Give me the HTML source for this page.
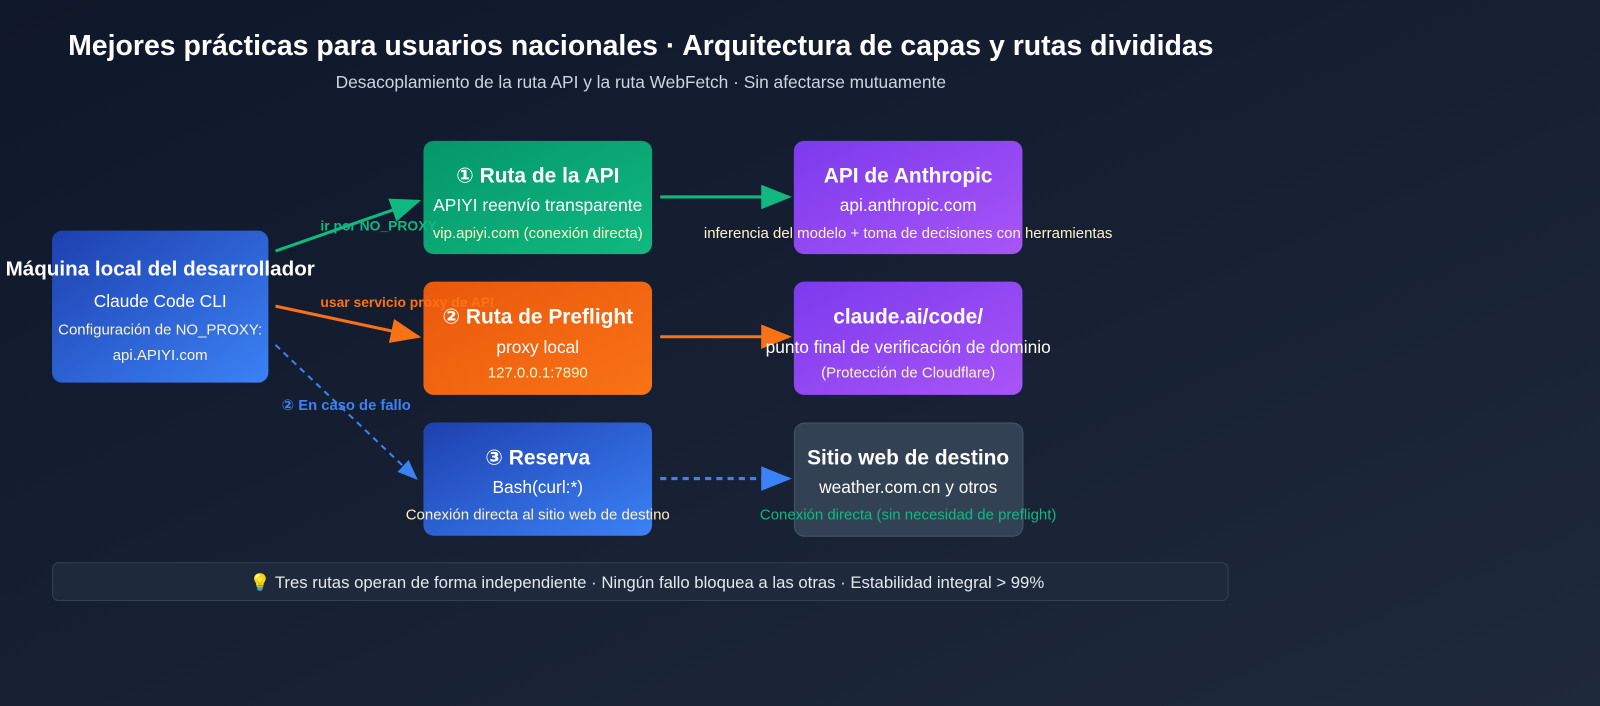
<!DOCTYPE html>
<html><head><meta charset="utf-8"><style>
html,body{margin:0;padding:0;background:#0f172a;}
svg{display:block;font-family:"Liberation Sans","DejaVu Sans",sans-serif;}
</style></head><body>
<svg width="1600" height="706" viewBox="0 0 1600 706" xmlns="http://www.w3.org/2000/svg">
<defs>
<linearGradient id="bg" x1="0" y1="0" x2="1" y2="1"><stop offset="0" stop-color="#0f172a"/><stop offset="1" stop-color="#1e293b"/></linearGradient>
<linearGradient id="gb" x1="0" y1="0" x2="1" y2="1"><stop offset="0" stop-color="#1e40af"/><stop offset="1" stop-color="#3b82f6"/></linearGradient>
<linearGradient id="gg" x1="0" y1="0" x2="1" y2="1"><stop offset="0" stop-color="#059669"/><stop offset="1" stop-color="#10b981"/></linearGradient>
<linearGradient id="go" x1="0" y1="0" x2="1" y2="1"><stop offset="0" stop-color="#ea580c"/><stop offset="1" stop-color="#f97316"/></linearGradient>
<linearGradient id="gp" x1="0" y1="0" x2="1" y2="1"><stop offset="0" stop-color="#7c3aed"/><stop offset="1" stop-color="#a855f7"/></linearGradient>
<marker id="ag" markerWidth="10" markerHeight="8" refX="9" refY="4" orient="auto" markerUnits="strokeWidth"><path d="M0,0 L10,4 L0,8z" fill="#10b981"/></marker>
<marker id="ao" markerWidth="10" markerHeight="8" refX="9" refY="4" orient="auto" markerUnits="strokeWidth"><path d="M0,0 L10,4 L0,8z" fill="#f97316"/></marker>
<marker id="ab" markerWidth="10" markerHeight="8" refX="9" refY="4" orient="auto" markerUnits="strokeWidth"><path d="M0,0 L10,4 L0,8z" fill="#3b82f6"/></marker>
</defs>
<rect width="1600" height="706" fill="url(#bg)"/>
<g transform="scale(1.0204)">
<text x="628" y="54" text-anchor="middle" font-size="27.9" font-weight="bold" fill="#fff">Mejores prácticas para usuarios nacionales · Arquitectura de capas y rutas divididas</text>
<text x="628" y="86" text-anchor="middle" font-size="17" fill="#cbd5e1">Desacoplamiento de la ruta API y la ruta WebFetch · Sin afectarse mutuamente</text>

<rect x="51" y="226" width="212" height="149" rx="10" fill="url(#gb)"/>
<rect x="415" y="138" width="224" height="111" rx="10" fill="url(#gg)"/>
<rect x="415" y="276" width="224" height="111" rx="10" fill="url(#go)"/>
<rect x="415" y="414" width="224" height="111" rx="10" fill="url(#gb)"/>
<rect x="778" y="138" width="224" height="111" rx="10" fill="url(#gp)"/>
<rect x="778" y="276" width="224" height="111" rx="10" fill="url(#gp)"/>
<rect x="778.5" y="414.5" width="224" height="111" rx="10" fill="#334155" stroke="#475569"/>

<line x1="270" y1="246" x2="410" y2="197" stroke="#10b981" stroke-width="3" marker-end="url(#ag)"/>
<line x1="270" y1="300" x2="410" y2="330" stroke="#f97316" stroke-width="3" marker-end="url(#ao)"/>
<line x1="270" y1="338" x2="408" y2="469" stroke="#3b82f6" stroke-width="2" stroke-dasharray="6,5" marker-end="url(#ab)"/>
<line x1="647" y1="193" x2="773" y2="193" stroke="#10b981" stroke-width="3" marker-end="url(#ag)"/>
<line x1="647" y1="330" x2="773" y2="330" stroke="#f97316" stroke-width="3" marker-end="url(#ao)"/>
<line x1="647" y1="469" x2="773" y2="469" stroke="#3b82f6" stroke-width="3" stroke-dasharray="6,5" marker-end="url(#ab)"/>

<text x="314" y="226" font-size="13.6" font-weight="bold" fill="#10b981">ir por NO_PROXY</text>
<text x="314" y="301" font-size="13.6" font-weight="bold" fill="#f97316">usar servicio proxy de API</text>
<text x="276" y="402" font-size="14.5" font-weight="bold" fill="#3b82f6">② En caso de fallo</text>

<g text-anchor="middle">
<text x="157" y="270" font-size="20.2" font-weight="bold" fill="#fff">Máquina local del desarrollador</text>
<text x="157" y="301" font-size="17" fill="#fff">Claude Code CLI</text>
<text x="157" y="328" font-size="14.7" fill="#fef3c7">Configuración de NO_PROXY:</text>
<text x="157" y="353" font-size="14.7" fill="#fef3c7">api.APIYI.com</text>

<text x="527" y="179" font-size="20.5" font-weight="bold" fill="#fff">① Ruta de la API</text>
<text x="527" y="207" font-size="17" fill="#fff">APIYI reenvío transparente</text>
<text x="527" y="233" font-size="14.7" fill="#fef3c7">vip.apiyi.com (conexión directa)</text>

<text x="527" y="317" font-size="20.5" font-weight="bold" fill="#fff">② Ruta de Preflight</text>
<text x="527" y="346" font-size="17" fill="#fff">proxy local</text>
<text x="527" y="370" font-size="14.7" fill="#fef3c7">127.0.0.1:7890</text>

<text x="527" y="455" font-size="20.5" font-weight="bold" fill="#fff">③ Reserva</text>
<text x="527" y="483" font-size="17" fill="#fff">Bash(curl:*)</text>
<text x="527" y="509" font-size="14.7" fill="#fef3c7">Conexión directa al sitio web de destino</text>

<text x="890" y="179" font-size="20.5" font-weight="bold" fill="#fff">API de Anthropic</text>
<text x="890" y="207" font-size="17" fill="#fff">api.anthropic.com</text>
<text x="890" y="233" font-size="14.7" fill="#fef3c7">inferencia del modelo + toma de decisiones con herramientas</text>

<text x="890" y="317" font-size="20.5" font-weight="bold" fill="#fff">claude.ai/code/</text>
<text x="890" y="346" font-size="17" fill="#fff">punto final de verificación de dominio</text>
<text x="890" y="370" font-size="14.7" fill="#fef3c7">(Protección de Cloudflare)</text>

<text x="890" y="455" font-size="20.5" font-weight="bold" fill="#fff">Sitio web de destino</text>
<text x="890" y="483" font-size="17" fill="#fff">weather.com.cn y otros</text>
<text x="890" y="509" font-size="14.7" fill="#10b981">Conexión directa (sin necesidad de preflight)</text>
</g>

<rect x="51.5" y="551.5" width="1152" height="37" rx="6" fill="#1e293b" stroke="#334155"/>
<text x="634" y="576" text-anchor="middle" font-size="16.4" fill="#e2e8f0">💡 Tres rutas operan de forma independiente · Ningún fallo bloquea a las otras · Estabilidad integral &gt; 99%</text>
</g>
</svg>
</body></html>
